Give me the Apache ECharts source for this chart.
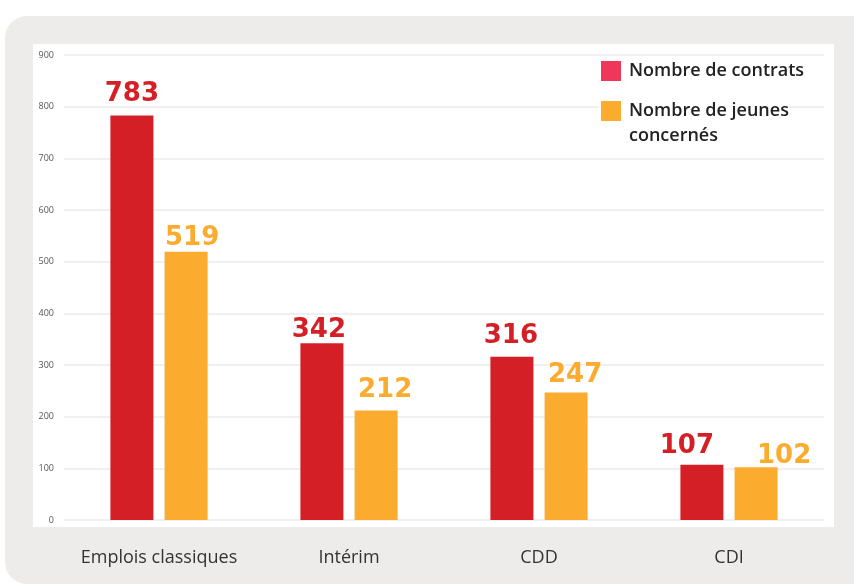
<!DOCTYPE html>
<html>
<head>
<meta charset="utf-8">
<script src="https://cdn.jsdelivr.net/npm/echarts@6/dist/echarts.min.js"></script>
<style>
	html, body { margin: 0; padding: 0; background: #fff; overflow: hidden; }
	.panel { position: absolute; left: 5px; top: 16px; width: 870px; height: 568px; background: #edecea; border-radius: 22px; }
	.inner { position: absolute; left: 33px; top: 44px; width: 801px; height: 483px; background: #fff; }
	#chart { position: absolute; left: 0; top: 0; width: 854px; height: 585px; }
</style>
</head>
<body>
<div class="panel"></div>
<div class="inner"></div>
<div id="chart"></div>
<script>
var categories = ['Emplois classiques', 'Intérim', 'CDD', 'CDI'];
var seriesNames = ['Nombre de contrats', 'Nombre de jeunes concernés'];
var contrats = [783, 342, 316, 107];
var jeunes = [519, 212, 247, 102];
var yTicks = [0, 100, 200, 300, 400, 500, 600, 700, 800, 900];

// nudges so the value labels sit like in the original
var contratsLabelOffset = [[0, -4], [-3, 4], [-1, -3], [-15, -1]];
var jeunesLabelOffset = [[6, 3], [9, -3], [9, 0], [28, 6]];

var red = '#d51f26';
var orange = '#fbab2e';
var legendFont = '600 18px "Open Sans", "Noto Sans", sans-serif';

function withOffsets(values, offsets) {
	return values.map(function(v, i) {
		return { value: v, label: { offset: offsets[i] } };
	});
}

var chart = echarts.init(document.getElementById('chart'));
var option = {
	animation: false,
	grid: {
		left: 64,
		right: 30,
		top: 55,
		bottom: 65
	},
	xAxis: {
		type: 'category',
		data: categories,
		axisLine: { show: false },
		axisTick: { show: false },
		axisLabel: {
			interval: 0,
			margin: 29,
			fontSize: 18,
			color: '#333',
			fontFamily: '"Open Sans", "Noto Sans", sans-serif'
		}
	},
	yAxis: {
		type: 'value',
		min: yTicks[0],
		max: yTicks[yTicks.length - 1],
		interval: 100,
		axisLabel: {
			margin: 10,
			fontSize: 9,
			color: '#555',
			fontFamily: '"Open Sans", "Noto Sans", sans-serif'
		},
		splitLine: {
			lineStyle: { color: '#ebebeb', width: 1.5 }
		}
	},
	series: [{
		name: seriesNames[0],
		type: 'bar',
		barWidth: 43,
		barGap: '26%',
		itemStyle: { color: red },
		label: {
			show: true,
			position: 'top',
			distance: 4,
			color: red,
			fontSize: 26,
			fontWeight: 'bold',
			fontFamily: '"DejaVu Sans", Verdana, sans-serif'
		},
		data: withOffsets(contrats, contratsLabelOffset)
	}, {
		name: seriesNames[1],
		type: 'bar',
		barWidth: 43,
		itemStyle: { color: orange },
		label: {
			show: true,
			position: 'top',
			distance: 4,
			color: orange,
			fontSize: 26,
			fontWeight: 'bold',
			fontFamily: '"DejaVu Sans", Verdana, sans-serif'
		},
		data: withOffsets(jeunes, jeunesLabelOffset)
	}],
	graphic: [{
		type: 'rect',
		z: 100,
		shape: { x: 599, y: 60, width: 190, height: 88 },
		style: { fill: '#fff' }
	}, {
		type: 'rect',
		z: 101,
		shape: { x: 601, y: 61, width: 20, height: 20 },
		style: { fill: '#ef3859' }
	}, {
		type: 'text',
		z: 101,
		x: 629,
		y: 71,
		style: {
			text: seriesNames[0],
			fill: '#222',
			font: legendFont,
			verticalAlign: 'middle'
		}
	}, {
		type: 'rect',
		z: 101,
		shape: { x: 601, y: 101, width: 20, height: 20 },
		style: { fill: orange }
	}, {
		type: 'text',
		z: 101,
		x: 629,
		y: 98.5,
		style: {
			text: 'Nombre de jeunes\nconcernés',
			fill: '#222',
			font: legendFont,
			lineHeight: 25,
			verticalAlign: 'top'
		}
	}]
};
chart.setOption(option);
</script>
</body>
</html>
